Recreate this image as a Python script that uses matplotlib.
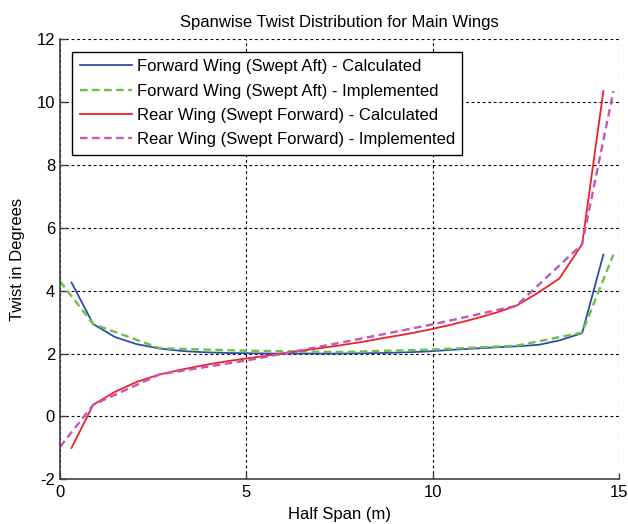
import matplotlib.pyplot as plt

plt.rcParams["font.family"] = ["Liberation Sans", "DejaVu Sans"]
plt.rcParams["axes.unicode_minus"] = False

# spanwise stations (m)
span_calc = [0.31, 0.89, 1.47, 2.06, 2.68, 3.3, 3.9, 4.5, 5.1, 5.7, 6.3, 6.9, 7.5,
             8.1, 8.7, 9.3, 9.9, 10.5, 11.1, 11.7, 12.24, 12.85, 13.4, 14.01, 14.58]
span_impl = [0.0, 0.89, 2.68, 5.0, 7.5, 10.0, 12.24, 14.01, 14.85]

# twist (deg)
fwd_calc = [4.26, 2.94, 2.53, 2.3, 2.16, 2.08, 2.04, 2.02, 2.01, 2.0, 2.0, 2.0, 2.0,
            2.01, 2.02, 2.04, 2.07, 2.12, 2.16, 2.2, 2.23, 2.28, 2.42, 2.65, 5.15]
fwd_impl = [4.3, 2.94, 2.17, 2.09, 2.05, 2.13, 2.25, 2.67, 5.15]
rear_calc = [-1.0, 0.37, 0.78, 1.1, 1.34, 1.5, 1.64, 1.76, 1.86, 1.96, 2.06, 2.16, 2.26,
             2.37, 2.5, 2.62, 2.76, 2.92, 3.1, 3.3, 3.52, 3.95, 4.39, 5.48, 10.35]
rear_impl = [-0.97, 0.37, 1.34, 1.78, 2.34, 2.93, 3.52, 5.48, 10.35]

fig = plt.figure(figsize=(6.28, 5.24), dpi=100)
ax = fig.add_axes([0.0955, 0.0853, 0.8902, 0.8397])

ax.plot(span_calc, fwd_calc, color="#2c4ea6", linewidth=1.3,
        label="Forward Wing (Swept Aft) - Calculated")
ax.plot(span_impl, fwd_impl, color="#6cc04a", linewidth=1.7, dashes=(3.2, 1.9),
        label="Forward Wing (Swept Aft) - Implemented")
ax.plot(span_calc, rear_calc, color="#f0202a", linewidth=1.3,
        label="Rear Wing (Swept Forward) - Calculated")
ax.plot(span_impl, rear_impl, color="#c058b8", linewidth=1.7, dashes=(3.2, 1.9),
        label="Rear Wing (Swept Forward) - Implemented")

ax.set_xlim(0, 15)
ax.set_ylim(-2, 12)
ax.set_xticks([0, 5, 10, 15])
ax.set_yticks(range(-2, 13, 2))
ax.grid(True, color="black", linestyle=(0, (2.5, 2.5)), linewidth=0.8)

for side in ["top", "right"]:
    ax.spines[side].set_visible(False)
for side in ["left", "bottom"]:
    ax.spines[side].set_color("#404040")
    ax.spines[side].set_linewidth(1.2)

ax.tick_params(direction="in", length=4, width=1, color="#404040", labelsize=12)
ax.tick_params(axis="x", pad=4)
ax.tick_params(axis="y", pad=3.5)

ax.set_title("Spanwise Twist Distribution for Main Wings", fontsize=12, pad=9)
ax.set_xlabel("Half Span (m)", fontsize=12, labelpad=5)
ax.set_ylabel("Twist in Degrees", fontsize=12, labelpad=8)

leg = ax.legend(loc="upper left", fontsize=12, handlelength=3.1, handletextpad=0.3,
                labelspacing=0.56, borderaxespad=0.75, borderpad=0.45,
                fancybox=False, framealpha=1, edgecolor="black")
leg.get_frame().set_linewidth(1.0)

fig.savefig("out.png", dpi=100)
